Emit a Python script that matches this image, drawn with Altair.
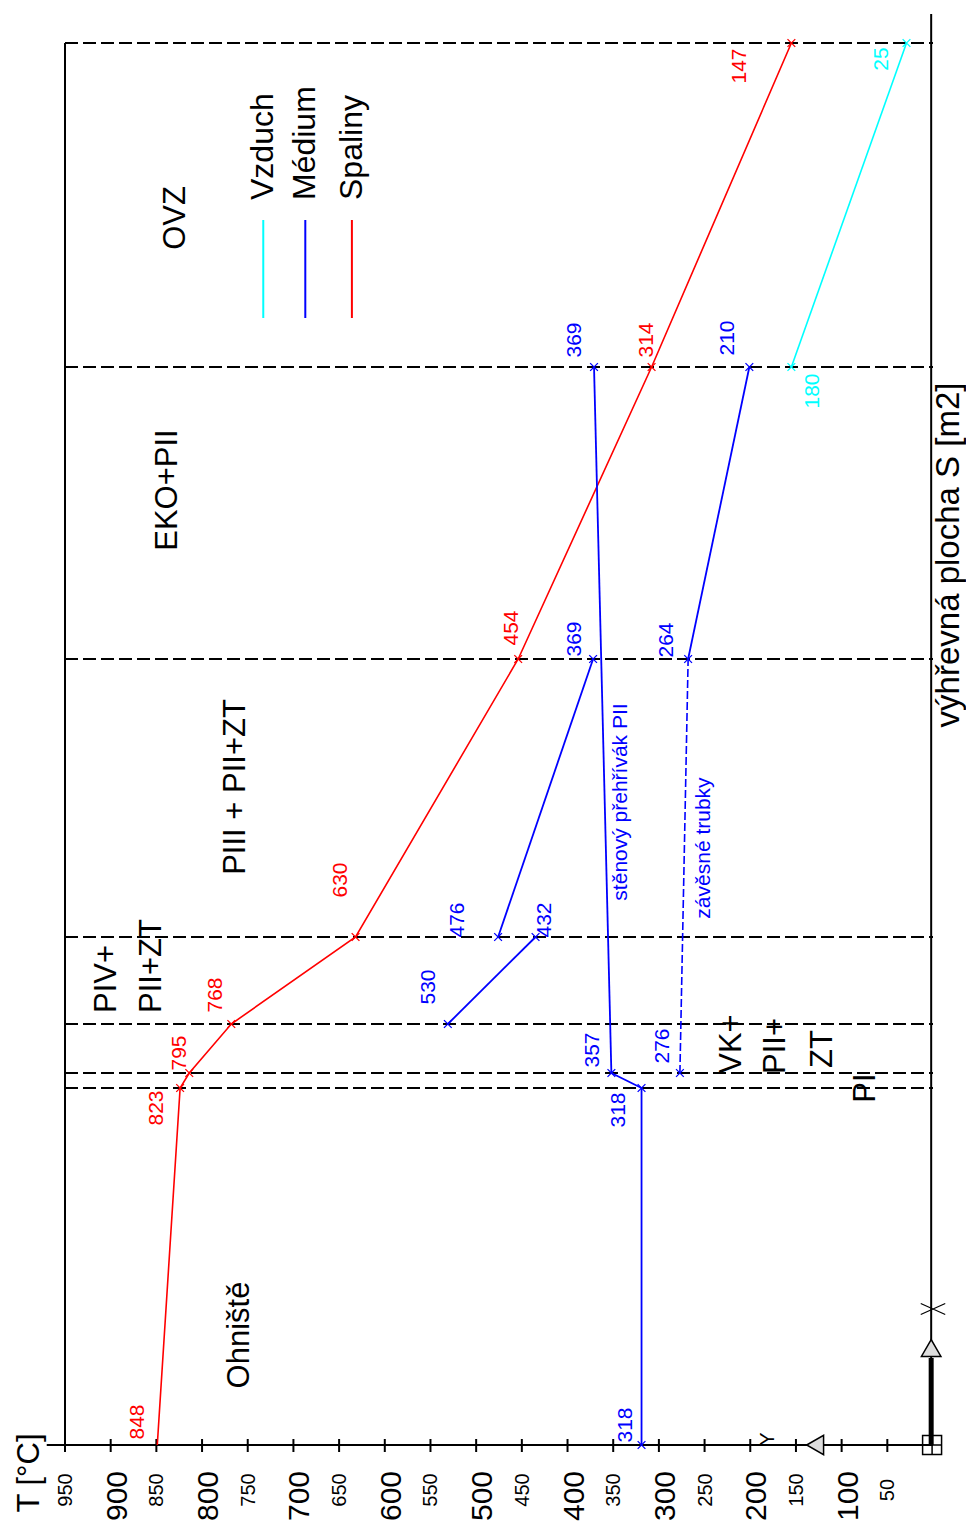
import altair as alt
import pandas as pd

FONT = "Liberation Sans, Arial, sans-serif"
RED, BLUE, CYAN = "#ff0000", "#0000ff", "#00ffff"

# ---------------- data ----------------
# heating surface S of the section boundaries (bottom of the drawing = 0)
section_S = [357, 372, 421, 508, 786, 1078, 1402]

# Spaliny (flue gas)
gas_T = [849, 824, 814, 768, 632, 454, 308, 155]
gas_S = [0, 357, 372, 421, 508, 786, 1078, 1402]
gas_text = ["848", "823", "795", "768", "630", "454", "314", "147"]

# Vzduch (air)
air_T = [155, 29]
air_S = [1078, 1402]
air_text = ["180", "25"]

# Médium (water / steam) - solid segments
med_seg = ["vyp", "vyp", "prech", "prech", "sten", "sten", "PIV", "PIV",
           "PIII", "PIII", "EKO", "EKO"]
med_T = [319, 319, 319, 352, 352, 371, 531, 435, 476, 372, 268, 201]
med_S = [0, 357, 357, 372, 372, 1078, 421, 508, 508, 786, 786, 1078]
# závěsné trubky (dashed)
hang_T = [277, 268]
hang_S = [372, 786]

med_pt_T = [319, 319, 352, 531, 435, 476, 372, 277, 268, 371, 201]
med_pt_S = [0, 357, 372, 421, 508, 508, 786, 372, 786, 1078, 1078]
med_text = ["318", "318", "357", "530", "432", "476", "369", "276", "264", "369", "210"]

# T axis tick labels
major_ticks = [900, 800, 700, 600, 500, 400, 300, 200, 100]
minor_ticks = [950, 850, 750, 650, 550, 450, 350, 250, 150, 50]

# ---------------- layout (label anchors, in T / S units) ----------------
gas_lab_T = [870, 849, 824, 785, 648, 461, 313, 211]
gas_lab_S = [23, 337, 392, 450, 565, 817, 1105, 1379]
air_lab_T = [131, 56]
air_lab_S = [1054, 1386]
med_lab_T = [336, 344, 372, 552, 425, 520, 392, 296, 291, 392, 224]
med_lab_S = [20, 335, 395, 458, 525, 525, 806, 399, 805, 1105, 1107]

xs = alt.Scale(domain=[0, 950], reverse=True, nice=False, zero=False)
ys = alt.Scale(domain=[0, 1402], nice=False, zero=False)


def X(f="T"):
    return alt.X(f"{f}:Q", scale=xs, axis=None)


def Y(f="S"):
    return alt.Y(f"{f}:Q", scale=ys, axis=None)


layers = []

# dashed section boundaries
sec_df = pd.DataFrame({"S": section_S, "T": 950, "T2": 0})
layers.append(alt.Chart(sec_df).mark_rule(color="black", strokeWidth=2, strokeDash=[13, 5])
              .encode(x=X(), x2="T2:Q", y=Y()))

# frame / axes lines
frame_df = pd.DataFrame({
    "T": [950, 2, 970], "T2": [950, 2, 0],
    "S": [0, 0, 0], "S2": [1402, 1431, 0],
})
layers.append(alt.Chart(frame_df).mark_rule(color="black", strokeWidth=2)
              .encode(x=X(), x2="T2:Q", y=Y(), y2="S2:Q"))

# ticks
tick_df = pd.DataFrame({"T": sorted(major_ticks + minor_ticks), "S": -7, "S2": 6})
layers.append(alt.Chart(tick_df).mark_rule(color="black", strokeWidth=2)
              .encode(x=X(), y=Y(), y2="S2:Q"))

# tick labels
maj_df = pd.DataFrame({"T": major_ticks, "S": -51, "lab": [str(v) for v in major_ticks]})
layers.append(alt.Chart(maj_df).mark_text(angle=270, align="center", baseline="middle",
                                          font=FONT, fontSize=30, dy=7, color="black")
              .encode(x=X(), y=Y(), text="lab:N"))
min_df = pd.DataFrame({"T": minor_ticks, "S": -45, "lab": [str(v) for v in minor_ticks]})
layers.append(alt.Chart(min_df).mark_text(angle=270, align="center", baseline="middle",
                                          font=FONT, fontSize=20, dy=1, color="black")
              .encode(x=X(), y=Y(), text="lab:N"))

# data lines
gas_df = pd.DataFrame({"T": gas_T, "S": gas_S, "i": range(len(gas_T))})
layers.append(alt.Chart(gas_df).mark_line(color=RED, strokeWidth=1.6)
              .encode(x=X(), y=Y(), order="i:Q"))
air_df = pd.DataFrame({"T": air_T, "S": air_S, "i": range(len(air_T))})
layers.append(alt.Chart(air_df).mark_line(color=CYAN, strokeWidth=1.6)
              .encode(x=X(), y=Y(), order="i:Q"))
med_df = pd.DataFrame({"T": med_T, "S": med_S, "seg": med_seg, "i": range(len(med_T))})
layers.append(alt.Chart(med_df).mark_line(color=BLUE, strokeWidth=1.8)
              .encode(x=X(), y=Y(), detail="seg:N", order="i:Q"))
hang_df = pd.DataFrame({"T": hang_T, "S": hang_S, "i": range(len(hang_T))})
layers.append(alt.Chart(hang_df).mark_line(color=BLUE, strokeWidth=1.6, strokeDash=[8, 3])
              .encode(x=X(), y=Y(), order="i:Q"))

# point markers
XPATH = "M-1,-1L1,1M-1,1L1,-1"
for T, S, c in [(gas_T[1:], gas_S[1:], RED), (air_T, air_S, CYAN), (med_pt_T, med_pt_S, BLUE)]:
    d = pd.DataFrame({"T": T, "S": S})
    layers.append(alt.Chart(d).mark_point(shape=XPATH, size=60, color=c, strokeWidth=1.3,
                                          filled=False, opacity=1)
                  .encode(x=X(), y=Y()))

# value labels
for T, S, txt, c in [(gas_lab_T, gas_lab_S, gas_text, RED),
                     (air_lab_T, air_lab_S, air_text, CYAN),
                     (med_lab_T, med_lab_S, med_text, BLUE)]:
    d = pd.DataFrame({"T": T, "S": S, "lab": txt})
    layers.append(alt.Chart(d).mark_text(angle=270, align="center", baseline="middle",
                                         font=FONT, fontSize=21, color=c)
                  .encode(x=X(), y=Y(), text="lab:N"))

# section names and other black texts: (text, T, S, align, size)
notes = [
    ("Ohniště", 758, 110, "center", 31),
    ("PIV+", 904, 432, "left", 31),
    ("PII+ZT", 855, 432, "left", 31),
    ("PIII + PII+ZT", 763, 658, "center", 31),
    ("EKO+PII", 837, 955, "center", 31),
    ("OVZ", 828, 1227, "center", 31),
    ("VK+", 220, 401, "center", 31),
    ("PII+", 172, 399, "center", 31),
    ("ZT", 120, 396, "center", 31),
    ("PI", 73, 357, "center", 31),
    ("výhřevná plocha S [m2]", -17, 890, "center", 33),
    ("T [°C]", 988, -28, "center", 31),
]
for txt, T, S, al, fs in notes:
    d = pd.DataFrame({"T": [T], "S": [S], "lab": [txt]})
    layers.append(alt.Chart(d).mark_text(angle=270, align=al, baseline="middle",
                                         font=FONT, fontSize=fs, color="black")
                  .encode(x=X(), y=Y(), text="lab:N"))

# blue annotations
for txt, T, S in [("stěnový přehřívák PII", 341, 643), ("závěsné trubky", 251, 597)]:
    d = pd.DataFrame({"T": [T], "S": [S], "lab": [txt]})
    layers.append(alt.Chart(d).mark_text(angle=270, align="center", baseline="middle",
                                         font=FONT, fontSize=21, color=BLUE)
                  .encode(x=X(), y=Y(), text="lab:N"))

# legend
leg_names = ["Vzduch", "Médium", "Spaliny"]
leg_colors = [CYAN, BLUE, RED]
leg_T = [733, 687, 636]
for n, c, T in zip(leg_names, leg_colors, leg_T):
    d = pd.DataFrame({"T": [T], "S": [1127], "S2": [1225], "St": [1245], "lab": [n]})
    layers.append(alt.Chart(d).mark_rule(color=c, strokeWidth=2)
                  .encode(x=X(), y=Y(), y2="S2:Q"))
    layers.append(alt.Chart(d).mark_text(angle=270, align="left", baseline="middle",
                                         font=FONT, fontSize=32, color="black")
                  .encode(x=X(), y=Y("St"), text="lab:N"))

# UCS icon (bottom right)
ucs_thick = pd.DataFrame({"T": [2], "S": [0], "S2": [87]})
layers.append(alt.Chart(ucs_thick).mark_rule(color="black", strokeWidth=5)
              .encode(x=X(), y=Y(), y2="S2:Q"))
for shp, T, S in [("triangle-up", 2, 97), ("triangle-left", 129, 0)]:
    d = pd.DataFrame({"T": [T], "S": [S]})
    layers.append(alt.Chart(d).mark_point(shape=shp, size=380, filled=True, fill="#dddddd",
                                          stroke="black", strokeWidth=1.5, opacity=1)
                  .encode(x=X(), y=Y()))
d = pd.DataFrame({"T": [1], "S": [0]})
layers.append(alt.Chart(d).mark_point(shape="M-1,-1H1V1H-1ZM0,-1V1M-1,0H1", size=360,
                                      filled=False, color="black", strokeWidth=1.5, opacity=1)
              .encode(x=X(), y=Y()))
d = pd.DataFrame({"T": [0], "S": [136]})
layers.append(alt.Chart(d).mark_point(shape="M-1,-0.45L1,0.45M-1,0.45L1,-0.45", size=600,
                                      filled=False, color="black", strokeWidth=1.2, opacity=1)
              .encode(x=X(), y=Y()))
d = pd.DataFrame({"T": [181], "S": [6], "lab": ["Y"]})
layers.append(alt.Chart(d).mark_text(angle=270, align="center", baseline="middle",
                                     font=FONT, fontSize=20, color="black")
              .encode(x=X(), y=Y(), text="lab:N"))

chart = alt.layer(*layers).properties(
    width=868, height=1402,
    padding={"left": 57, "top": 35, "right": 33, "bottom": 78},
    autosize=alt.AutoSizeParams(type="none"),
    background="white",
).configure_view(stroke=None)

chart.save("out.html", embed_options={"renderer": "svg", "actions": False})
